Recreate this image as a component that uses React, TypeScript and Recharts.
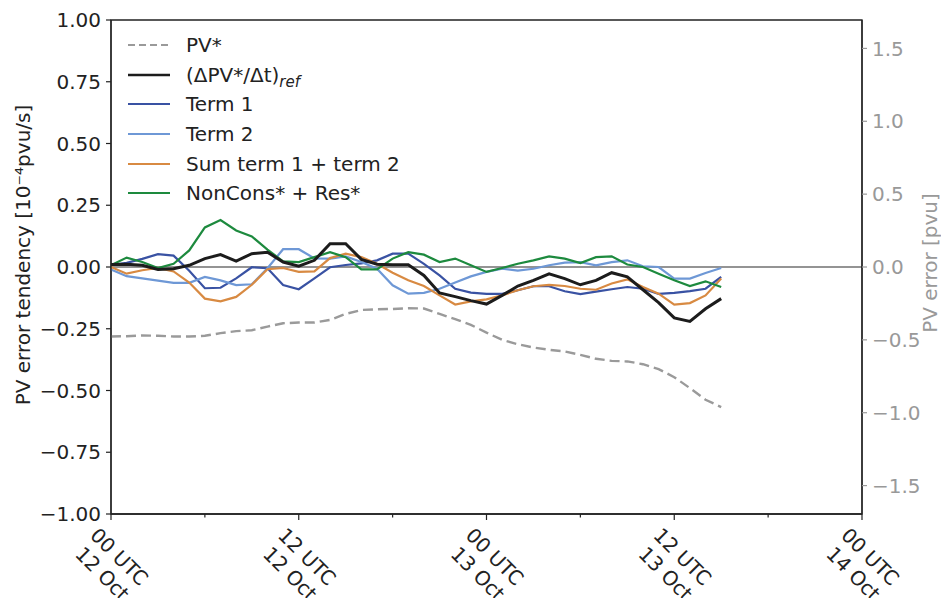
import React from 'react';
import { LineChart, Line, XAxis, YAxis, ReferenceLine, ReferenceArea, Legend } from 'recharts';

// ---------- data (hours since 00 UTC 12 Oct) ----------
const hours = [0, 1, 2, 3, 4, 5, 6, 7, 8, 9, 10, 11, 12, 13, 14, 15, 16, 17, 18, 19, 20, 21, 22, 23, 24, 25, 26, 27, 28, 29, 30, 31, 32, 33, 34, 35, 36, 37, 38, 39];

// PV* error [pvu] (right axis)
const pvStar = [-0.477, -0.475, -0.47, -0.472, -0.477, -0.477, -0.472, -0.454, -0.44, -0.434, -0.409, -0.386, -0.381, -0.381, -0.363, -0.322, -0.295, -0.29, -0.288, -0.283, -0.285, -0.322, -0.358, -0.397, -0.45, -0.5, -0.53, -0.553, -0.568, -0.58, -0.603, -0.63, -0.644, -0.648, -0.667, -0.701, -0.756, -0.831, -0.911, -0.961];

// (ΔPV*/Δt)ref
const refTend = [0.01, 0.011, 0.007, -0.01, -0.007, 0.007, 0.034, 0.05, 0.024, 0.054, 0.06, 0.02, 0.003, 0.027, 0.094, 0.094, 0.031, 0.011, 0.009, 0.009, -0.034, -0.105, -0.12, -0.136, -0.15, -0.115, -0.077, -0.054, -0.028, -0.047, -0.072, -0.054, -0.023, -0.04, -0.092, -0.144, -0.206, -0.22, -0.169, -0.128];

// Term 1
const term1 = [0.008, 0.017, 0.033, 0.052, 0.046, -0.015, -0.086, -0.084, -0.046, -0.001, -0.005, -0.073, -0.09, -0.046, -0.001, 0.008, 0.015, 0.027, 0.054, 0.054, 0.013, -0.034, -0.088, -0.104, -0.109, -0.109, -0.094, -0.078, -0.078, -0.098, -0.11, -0.1, -0.09, -0.081, -0.088, -0.109, -0.105, -0.098, -0.088, -0.04];

// Term 2
const term2 = [-0.01, -0.037, -0.046, -0.055, -0.064, -0.064, -0.04, -0.054, -0.073, -0.07, -0.005, 0.072, 0.072, 0.035, 0.034, 0.043, 0.02, -0.007, -0.074, -0.108, -0.105, -0.088, -0.063, -0.038, -0.02, -0.007, -0.015, -0.007, 0.007, 0.018, 0.02, 0.007, 0.02, 0.027, 0.003, 0, -0.047, -0.047, -0.024, -0.004];

// Sum term 1 + term 2
const sumTerms = [0, -0.027, -0.013, -0.004, -0.018, -0.063, -0.128, -0.139, -0.121, -0.072, -0.009, -0.004, -0.02, -0.018, 0.036, 0.054, 0.04, 0.013, -0.023, -0.054, -0.077, -0.115, -0.152, -0.139, -0.131, -0.115, -0.094, -0.078, -0.072, -0.077, -0.088, -0.092, -0.067, -0.05, -0.081, -0.108, -0.152, -0.146, -0.115, -0.047];

// NonCons* + Res*
const nonCons = [0.007, 0.038, 0.02, -0.004, 0.013, 0.067, 0.16, 0.19, 0.148, 0.124, 0.07, 0.023, 0.02, 0.04, 0.06, 0.04, -0.01, -0.01, 0.034, 0.06, 0.05, 0.02, 0.034, 0.007, -0.02, -0.004, 0.013, 0.027, 0.043, 0.034, 0.016, 0.04, 0.043, 0.01, 0, -0.027, -0.054, -0.077, -0.058, -0.081];

// ---------- ticks / labels ----------
const xTicks = [0, 6, 12, 18, 24, 30, 36, 42, 48];
const xMajorLabels: Record<number, [string, string]> = {
  0: ['00 UTC', '12 Oct'],
  12: ['12 UTC', '12 Oct'],
  24: ['00 UTC', '13 Oct'],
  36: ['12 UTC', '13 Oct'],
  48: ['00 UTC', '14 Oct'],
};
const leftTicks = [-1, -0.75, -0.5, -0.25, 0, 0.25, 0.5, 0.75, 1];
const rightTicks = [-1.5, -1, -0.5, 0, 0.5, 1, 1.5];

const seriesNames = {
  pv: 'PV*',
  ref: '(ΔPV*/Δt)',
  t1: 'Term 1',
  t2: 'Term 2',
  sum: 'Sum term 1 + term 2',
  nc: 'NonCons* + Res*',
};

const data = hours.map((h, i) => ({
  h,
  pv: pvStar[i],
  ref: refTend[i],
  t1: term1[i],
  t2: term2[i],
  sum: sumTerms[i],
  nc: nonCons[i],
}));

// ---------- styling ----------
const FONT = "'DejaVu Sans', sans-serif";
const FS = 20;
const INK = '#222222';
const GRAY = '#999999';
const C_REF = '#1c1c1c';
const C_T1 = '#3952a3';
const C_T2 = '#6e98d6';
const C_SUM = '#d88a42';
const C_NC = '#1d8a3e';
const C_PV = '#9a9a9a';

const W = 941;
const H = 598;
const PLOT_BOTTOM = 514;

const fmt2 = (v: number) => (v < 0 ? '\u2212' : '') + Math.abs(v).toFixed(2);
const fmt1 = (v: number) => (v < 0 ? '\u2212' : '') + Math.abs(v).toFixed(1);

const XTick = (props: any) => {
  const { x, payload } = props;
  const lab = xMajorLabels[payload.value];
  return (
    <g>
      <line x1={x} x2={x} y1={PLOT_BOTTOM} y2={PLOT_BOTTOM + (lab ? 6 : 3.5)} stroke={INK} strokeWidth={1.2} />
      {lab && (
        <g transform={`translate(${x},565) rotate(45)`}>
          <text textAnchor="middle" fontSize={FS} fontFamily={FONT} fill={INK}>
            <tspan x={0} y={-4.7}>{lab[0]}</tspan>
            <tspan x={0} y={19.3}>{lab[1]}</tspan>
          </text>
        </g>
      )}
    </g>
  );
};

const legendRows = [
  { key: 'pv', color: C_PV, dash: '7 4', width: 2.2 },
  { key: 'ref', color: C_REF, dash: undefined, width: 2.6 },
  { key: 't1', color: C_T1, dash: undefined, width: 2.2 },
  { key: 't2', color: C_T2, dash: undefined, width: 2.2 },
  { key: 'sum', color: C_SUM, dash: undefined, width: 2.2 },
  { key: 'nc', color: C_NC, dash: undefined, width: 2.2 },
];

const LegendContent = () => (
  <div style={{ fontFamily: FONT, fontSize: FS, color: INK }}>
    {legendRows.map((r) => (
      <div key={r.key} style={{ display: 'flex', alignItems: 'center', height: 29.7, whiteSpace: 'nowrap' }}>
        <svg width={42} height={10} style={{ marginLeft: 8, marginRight: 16, display: 'block' }}>
          <line x1={0} x2={42} y1={5} y2={5} stroke={r.color} strokeWidth={r.width} strokeDasharray={r.dash} />
        </svg>
        <span>
          {(seriesNames as any)[r.key]}
          {r.key === 'ref' && (
            <span style={{ fontStyle: 'italic', fontSize: 15, position: 'relative', top: 5 }}>ref</span>
          )}
        </span>
      </div>
    ))}
  </div>
);

export default function App() {
  return (
    <div style={{ position: 'absolute', left: 0, top: 0, width: W, height: H, background: '#fff' }}>
      <LineChart width={W} height={H} data={data} margin={{ top: 20, right: 9, bottom: 0, left: 51 }}>
        <ReferenceArea
          yAxisId="left"
          x1={0}
          x2={48}
          y1={-1}
          y2={1}
          fill="none"
          stroke={INK}
          strokeWidth={1.3}
          ifOverflow="visible"
        />
        <XAxis
          dataKey="h"
          type="number"
          domain={[0, 48]}
          ticks={xTicks}
          interval={0}
          height={84}
          tickLine={false}
          tickSize={0}
          tickMargin={0}
          axisLine={{ stroke: INK, strokeWidth: 1.3 }}
          tick={<XTick />}
        />
        <YAxis
          yAxisId="left"
          orientation="left"
          width={60}
          domain={[-1, 1]}
          ticks={leftTicks}
          interval={0}
          tickFormatter={fmt2}
          tickSize={5}
          tickMargin={5}
          tickLine={{ stroke: INK, strokeWidth: 1.2 }}
          axisLine={{ stroke: INK, strokeWidth: 1.3 }}
          tick={{ fill: INK, fontSize: FS, fontFamily: FONT }}
          label={{
            content: () => (
              <text
                transform="translate(30,255) rotate(-90)"
                textAnchor="middle"
                fontSize={FS}
                fontFamily={FONT}
                fill={INK}
              >
                PV error tendency [10⁻⁴pvu/s]
              </text>
            ),
          }}
        />
        <YAxis
          yAxisId="right"
          orientation="right"
          width={70}
          domain={[-1.695, 1.695]}
          ticks={rightTicks}
          interval={0}
          tickFormatter={fmt1}
          tickSize={5}
          tickMargin={5}
          tickLine={{ stroke: GRAY, strokeWidth: 1.2 }}
          axisLine={{ stroke: INK, strokeWidth: 1.3 }}
          tick={{ fill: GRAY, fontSize: FS, fontFamily: FONT }}
          label={{
            content: () => (
              <text
                transform="translate(937,263) rotate(-90)"
                textAnchor="middle"
                fontSize={FS}
                fontFamily={FONT}
                fill={GRAY}
              >
                PV error [pvu]
              </text>
            ),
          }}
        />
        <ReferenceLine yAxisId="left" y={0} stroke="#2a2a2a" strokeWidth={1.1} />
        <Line yAxisId="right" dataKey="pv" stroke={C_PV} strokeWidth={2.4} strokeDasharray="10 5" dot={false} isAnimationActive={false} />
        <Line yAxisId="left" dataKey="t1" stroke={C_T1} strokeWidth={2.2} dot={false} isAnimationActive={false} />
        <Line yAxisId="left" dataKey="t2" stroke={C_T2} strokeWidth={2.2} dot={false} isAnimationActive={false} />
        <Line yAxisId="left" dataKey="sum" stroke={C_SUM} strokeWidth={2.2} dot={false} isAnimationActive={false} />
        <Line yAxisId="left" dataKey="nc" stroke={C_NC} strokeWidth={2.2} dot={false} isAnimationActive={false} />
        <Line yAxisId="left" dataKey="ref" stroke={C_REF} strokeWidth={3} dot={false} isAnimationActive={false} />
        <Legend
          layout="vertical"
          align="center"
          verticalAlign="middle"
          content={<LegendContent />}
          wrapperStyle={{ top: 30, left: 120, width: 340, height: 180 }}
        />
      </LineChart>
    </div>
  );
}
